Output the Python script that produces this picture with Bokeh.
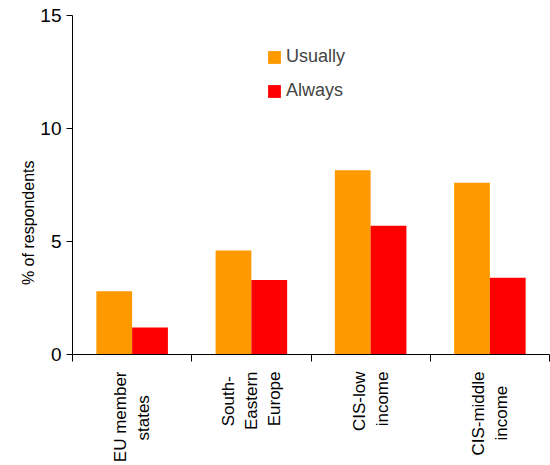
from bokeh.plotting import figure
from bokeh.models import FixedTicker, Legend, LegendItem, ColumnDataSource, LinearAxis, Range1d
from bokeh.embed import file_html
from bokeh.resources import INLINE
import math

categories = ["EU member\nstates", "South-\nEastern\nEurope", "CIS-low\nincome", "CIS-middle\nincome"]
usually = [2.8, 4.6, 8.15, 7.6]
always = [1.2, 3.3, 5.7, 3.4]
y_ticks = [0, 5, 10, 15]
y_title = "% of respondents"

# approximate glyph advance widths (em) of Liberation Sans, used to centre the
# lines of each rotated multi-line category label
W = {'E': .667, 'U': .722, ' ': .278, 'm': .833, 'e': .556, 'b': .556, 'r': .333,
     's': .5, 't': .278, 'a': .556, 'S': .667, 'o': .556, 'u': .556, 'h': .556,
     '-': .333, 'n': .556, 'p': .556, 'C': .722, 'I': .278, 'l': .222, 'w': .722,
     'i': .222, 'c': .5, 'd': .556}
NBSP = "\u00a0"


def centred(label):
    lines = label.split("\n")
    widths = [sum(W.get(ch, .556) for ch in ln) for ln in lines]
    wmax = max(widths)
    return "\n".join(ln + NBSP * int(round((wmax - w) / 2 / 0.278))
                     for ln, w in zip(lines, widths))


centers = [i + 0.5 for i in range(len(categories))]
src = ColumnDataSource(dict(
    xu=[c - 0.15 for c in centers], xa=[c + 0.15 for c in centers],
    usually=usually, always=always))

p = figure(width=550, height=465, x_range=(0, len(categories)), y_range=(0, 15),
           output_backend="svg", toolbar_location=None,
           min_border_left=72, min_border_top=15, min_border_right=1, min_border_bottom=111)
p.outline_line_color = None
p.xgrid.visible = False
p.ygrid.visible = False

ru = p.vbar(x="xu", top="usually", width=0.3, source=src, color="#FF9900", line_color=None)
ra = p.vbar(x="xa", top="always", width=0.3, source=src, color="#FF0000", line_color=None)

font = "Liberation Sans"
# x axis: ticks at category boundaries, labels at category centres
p.xaxis.ticker = FixedTicker(ticks=centers, minor_ticks=list(range(len(categories) + 1)))
p.xaxis.major_label_overrides = {c: centred(lab) for c, lab in zip(centers, categories)}
p.xaxis.major_label_orientation = math.pi / 2
p.xaxis.major_tick_line_color = None
p.xaxis.minor_tick_line_color = "black"
p.xaxis.minor_tick_out = 7
p.xaxis.minor_tick_in = 0
p.xaxis.major_label_text_font = font
p.xaxis.major_label_text_font_size = "17px"
p.xaxis.major_label_text_color = "black"
p.xaxis.major_label_standoff = 10
p.xaxis.axis_line_color = "black"

# y axis
p.yaxis.ticker = FixedTicker(ticks=y_ticks, minor_ticks=[])
p.yaxis.major_tick_out = 6
p.yaxis.major_tick_in = 0
p.yaxis.major_label_text_font = font
p.yaxis.major_label_text_font_size = "19px"
p.yaxis.major_label_text_color = "black"
p.yaxis.major_label_standoff = 5
p.yaxis.axis_line_color = "black"

# axis title carried by a bare outer axis; trailing no-break spaces move it a
# little below the middle of the axis, as in the original
p.extra_y_ranges = {"title": Range1d(0, 15)}
title_axis = LinearAxis(y_range_name="title",
                        ticker=FixedTicker(ticks=[], minor_ticks=[]),
                        axis_line_color=None, major_tick_line_color=None,
                        minor_tick_line_color=None, major_label_text_font_size="0px",
                        major_label_standoff=0, major_tick_out=0, major_tick_in=0,
                        axis_label=y_title + NBSP * 17, axis_label_standoff=1,
                        axis_label_text_font=font, axis_label_text_font_style="normal",
                        axis_label_text_font_size="16px", axis_label_text_color="black")
p.add_layout(title_axis, "left")

legend = Legend(items=[LegendItem(label="Usually", renderers=[ru]),
                       LegendItem(label="Always", renderers=[ra])],
                location=(194, 253))
legend.border_line_color = None
legend.background_fill_alpha = 0
legend.label_text_font = font
legend.label_text_font_size = "18px"
legend.glyph_width = 16
legend.glyph_height = 16
legend.spacing = 13
legend.label_standoff = 4
legend.padding = 0
legend.margin = 0
p.add_layout(legend)

open("out.html", "w").write(file_html(p, INLINE))
